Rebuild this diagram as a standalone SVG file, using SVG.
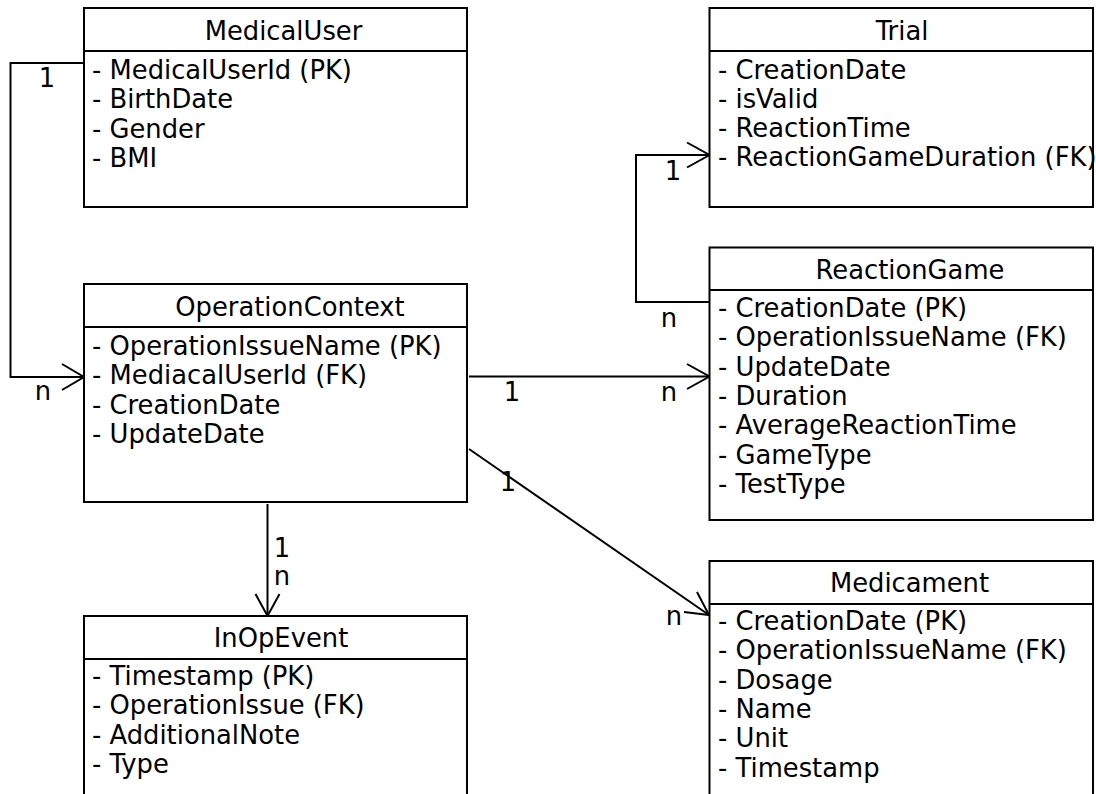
<svg xmlns="http://www.w3.org/2000/svg" width="1096" height="794" viewBox="0 0 1096 794">
<style>
.box{fill:#fff;stroke:#000;stroke-width:2}
.sep{stroke:#000;stroke-width:2}
text{font-family:"DejaVu Sans","Liberation Sans",sans-serif;font-size:25.8px;fill:#000}
.t{text-anchor:middle}
.c{fill:none;stroke:#000;stroke-width:2}
.lbl{text-anchor:middle}
</style>
<rect width="1096" height="794" fill="#fff"/>
<g id="connectors">
<polyline class="c" points="84,63 10.5,63 10.5,377 84,377"/>
<polyline class="c" points="62,364 84,377 62,390"/>
<polyline class="c" points="709.5,302 636,302 636,155 709.5,155"/>
<polyline class="c" points="687,142.5 709.5,155 687,167.5"/>
<line class="c" x1="469" y1="376.5" x2="709.5" y2="376.5"/>
<polyline class="c" points="687,364 709.5,376.5 687,389"/>
<line class="c" x1="469" y1="449" x2="709" y2="615"/>
<polyline class="c" points="697,592 709,615 684,612"/>
<line class="c" x1="267.5" y1="504" x2="267.5" y2="616"/>
<polyline class="c" points="255.5,594 267.5,616 279.5,594"/>
<text class="lbl" x="47" y="87">1</text>
<text class="lbl" x="43" y="400">n</text>
<text class="lbl" x="673" y="180">1</text>
<text class="lbl" x="669" y="327">n</text>
<text class="lbl" x="512" y="401">1</text>
<text class="lbl" x="669" y="401">n</text>
<text class="lbl" x="508" y="491">1</text>
<text class="lbl" x="674" y="625">n</text>
<text class="lbl" x="282" y="557">1</text>
<text class="lbl" x="282" y="585">n</text>
</g>
<g id="MedicalUser">
<rect class="box" x="84" y="8" width="383" height="199"/>
<line class="sep" x1="84" y1="51" x2="467" y2="51"/>
<text class="t" x="283.5" y="40">MedicalUser</text>
<text x="92" y="79">- MedicalUserId (PK)</text>
<text x="92" y="108.3">- BirthDate</text>
<text x="92" y="137.6">- Gender</text>
<text x="92" y="166.9">- BMI</text>
</g>
<g id="Trial">
<rect class="box" x="709.5" y="8" width="383.5" height="199"/>
<line class="sep" x1="709.5" y1="51" x2="1093" y2="51"/>
<text class="t" x="902" y="40">Trial</text>
<text x="718" y="78.5">- CreationDate</text>
<text x="718" y="107.8">- isValid</text>
<text x="718" y="137.1">- ReactionTime</text>
<text x="718" y="166.4">- ReactionGameDuration (FK)</text>
</g>
<g id="ReactionGame">
<rect class="box" x="709.5" y="247.5" width="383.5" height="272.5"/>
<line class="sep" x1="709.5" y1="290" x2="1093" y2="290"/>
<text class="t" x="910" y="279">ReactionGame</text>
<text x="718" y="317">- CreationDate (PK)</text>
<text x="718" y="346.3">- OperationIssueName (FK)</text>
<text x="718" y="375.6">- UpdateDate</text>
<text x="718" y="404.9">- Duration</text>
<text x="718" y="434.2">- AverageReactionTime</text>
<text x="718" y="463.5">- GameType</text>
<text x="718" y="492.8">- TestType</text>
</g>
<g id="OperationContext">
<rect class="box" x="84" y="284" width="383" height="218"/>
<line class="sep" x1="84" y1="327" x2="467" y2="327"/>
<text class="t" x="290" y="316">OperationContext</text>
<text x="92" y="355">- OperationIssueName (PK)</text>
<text x="92" y="384.3">- MediacalUserId (FK)</text>
<text x="92" y="413.6">- CreationDate</text>
<text x="92" y="442.9">- UpdateDate</text>
</g>
<g id="InOpEvent">
<rect class="box" x="84" y="616" width="383" height="220"/>
<line class="sep" x1="84" y1="659" x2="467" y2="659"/>
<text class="t" x="281" y="647">InOpEvent</text>
<text x="92" y="685">- Timestamp (PK)</text>
<text x="92" y="714.3">- OperationIssue (FK)</text>
<text x="92" y="743.6">- AdditionalNote</text>
<text x="92" y="772.9">- Type</text>
</g>
<g id="Medicament">
<rect class="box" x="709.5" y="561" width="383.5" height="260"/>
<line class="sep" x1="709.5" y1="604" x2="1093" y2="604"/>
<text class="t" x="909.5" y="592">Medicament</text>
<text x="718" y="630">- CreationDate (PK)</text>
<text x="718" y="659.3">- OperationIssueName (FK)</text>
<text x="718" y="688.6">- Dosage</text>
<text x="718" y="717.9">- Name</text>
<text x="718" y="747.2">- Unit</text>
<text x="718" y="776.5">- Timestamp</text>
</g>
</svg>
